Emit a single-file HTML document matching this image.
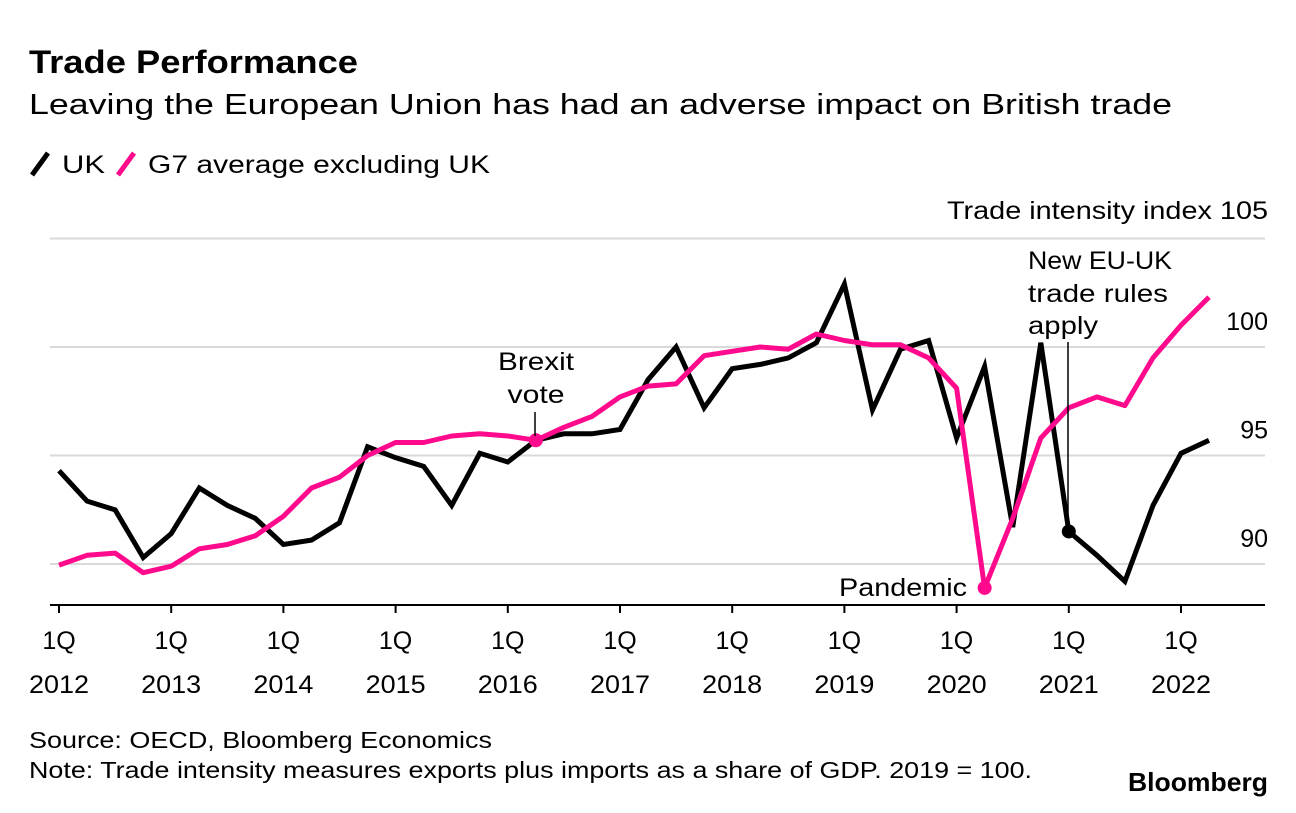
<!DOCTYPE html>
<html><head><meta charset="utf-8">
<style>
html,body{margin:0;padding:0;background:#fff;}
body{width:1296px;height:808px;overflow:hidden;font-family:"Liberation Sans",Arial,sans-serif;}
svg text{font-family:"Liberation Sans",Arial,sans-serif;}
</style></head>
<body>
<svg id="chart" width="1296" height="808" xmlns="http://www.w3.org/2000/svg">
  <text x="29" y="73" font-size="32" font-weight="bold" fill="#000" textLength="329" lengthAdjust="spacingAndGlyphs">Trade Performance</text>
  <text x="29" y="114" font-size="29" fill="#000" textLength="1143" lengthAdjust="spacingAndGlyphs">Leaving the European Union has had an adverse impact on British trade</text>
  <g>
    <line x1="32" y1="175" x2="48" y2="153" stroke="#000" stroke-width="5"/>
    <text x="62" y="173" font-size="25" textLength="43" lengthAdjust="spacingAndGlyphs">UK</text>
    <line x1="118" y1="175" x2="134" y2="153" stroke="#ff0a8c" stroke-width="5"/>
    <text x="148" y="173" font-size="25" textLength="342" lengthAdjust="spacingAndGlyphs">G7 average excluding UK</text>
  </g>
  <text x="947" y="219" font-size="25" textLength="321" lengthAdjust="spacingAndGlyphs">Trade intensity index 105</text>
  <g id="grid"></g>
  <g id="xaxis"></g>
  <g id="series"></g>
  <g>
    <text x="536" y="370" font-size="25" text-anchor="middle" textLength="76" lengthAdjust="spacingAndGlyphs">Brexit</text>
    <text x="536" y="403" font-size="25" text-anchor="middle" textLength="57" lengthAdjust="spacingAndGlyphs">vote</text>
    <line x1="535" y1="412" x2="535" y2="436" stroke="#000" stroke-width="1.5"/>
  </g>
  <text x="839" y="596" font-size="25" textLength="128" lengthAdjust="spacingAndGlyphs">Pandemic</text>
  <g>
    <text x="1028" y="269" font-size="25" textLength="144" lengthAdjust="spacingAndGlyphs">New EU-UK</text>
    <text x="1028" y="302" font-size="25" textLength="140" lengthAdjust="spacingAndGlyphs">trade rules</text>
    <text x="1028" y="334" font-size="25" textLength="70" lengthAdjust="spacingAndGlyphs">apply</text>
    <line x1="1068" y1="342" x2="1068" y2="531" stroke="#000" stroke-width="1.5"/>
  </g>
  <text x="29" y="748" font-size="23" textLength="463" lengthAdjust="spacingAndGlyphs">Source: OECD, Bloomberg Economics</text>
  <text x="29" y="778" font-size="23" textLength="1003" lengthAdjust="spacingAndGlyphs">Note: Trade intensity measures exports plus imports as a share of GDP. 2019 = 100.</text>
  <text x="1128" y="791" font-size="26" font-weight="bold" textLength="140" lengthAdjust="spacingAndGlyphs">Bloomberg</text>
</svg>
<script>
const years = [2012,2013,2014,2015,2016,2017,2018,2019,2020,2021,2022];
const yTicks = [90,95,100,105];
const ukValues = [94.3,92.9,92.5,90.3, 91.4,93.5,92.7,92.1, 90.9,91.1,91.9,95.4, 94.9,94.5,92.7,95.1, 94.7,95.7,96.0,96.0, 96.2,98.5,100.0,97.2, 99.0,99.2,99.5,100.2, 102.9,97.1,99.9,100.3, 95.8,99.1,91.7,100.2, 91.5,90.4,89.2,92.7, 95.1,95.7];
const g7Values = [89.95,90.4,90.5,89.6, 89.9,90.7,90.9,91.3, 92.2,93.5,94.0,95.0, 95.6,95.6,95.9,96.0, 95.9,95.7,96.3,96.8, 97.7,98.2,98.3,99.6, 99.8,100.0,99.9,100.6, 100.3,100.1,100.1,99.5, 98.1,88.9,92.1,95.8, 97.2,97.7,97.3,99.5, 101.0,102.3];
const brexitIdx = 17, pandemicIdx = 33, rulesIdx = 36;

const NS = "http://www.w3.org/2000/svg";
function x(i){ return 59 + i*28.05; }
function y(v){ return 347 - (v-100)*21.7; }
function mk(tag, attrs, parent){
  const e = document.createElementNS(NS, tag);
  for (const k in attrs) e.setAttribute(k, attrs[k]);
  parent.appendChild(e); return e;
}
const grid = document.getElementById('grid');
yTicks.forEach(t=>{
  const l = mk('line',{x1:50,x2:1265,y1:y(t),y2:y(t),stroke:'#d9d9d9','stroke-width':2},grid);
  
  
  if (t!==105){
    const tx = mk('text',{x:1268,y:y(t)-17,'font-size':25,'text-anchor':'end'},grid);
    tx.textContent = t;
    
    
  }
});
const xa = document.getElementById('xaxis');
const ax = mk('line',{x1:50,x2:1265,y1:605,y2:605,stroke:'#000','stroke-width':2},xa);


years.forEach((yr,k)=>{
  const xx = x(k*4);
  const tk = mk('line',{x1:xx,x2:xx,y1:605,y2:613,stroke:'#000','stroke-width':2},xa);
  
  
  const t1 = mk('text',{x:xx,y:649,'font-size':25,'text-anchor':'middle'},xa);
  t1.textContent='1Q';
  
  
  const t2 = mk('text',{x:xx,y:693,'font-size':25,'text-anchor':'middle',textLength:60,lengthAdjust:'spacingAndGlyphs'},xa);
  t2.textContent=yr;
  
  
});
const s = document.getElementById('series');
function pts(arr){ return arr.map((v,i)=>x(i).toFixed(1)+','+y(v).toFixed(1)).join(' '); }
const uk = mk('polyline',{points:pts(ukValues),fill:'none',stroke:'#000','stroke-width':5,'stroke-linejoin':'miter'},s);


const g7 = mk('polyline',{points:pts(g7Values),fill:'none',stroke:'#ff0a8c','stroke-width':5,'stroke-linejoin':'round'},s);


const d1 = mk('circle',{cx:x(brexitIdx),cy:y(g7Values[brexitIdx]),r:7,fill:'#ff0a8c'},s);


const d2 = mk('circle',{cx:x(pandemicIdx),cy:y(g7Values[pandemicIdx]),r:7,fill:'#ff0a8c'},s);


const d3 = mk('circle',{cx:x(rulesIdx),cy:y(ukValues[rulesIdx]),r:7,fill:'#000'},s);


</script>
</body></html>
